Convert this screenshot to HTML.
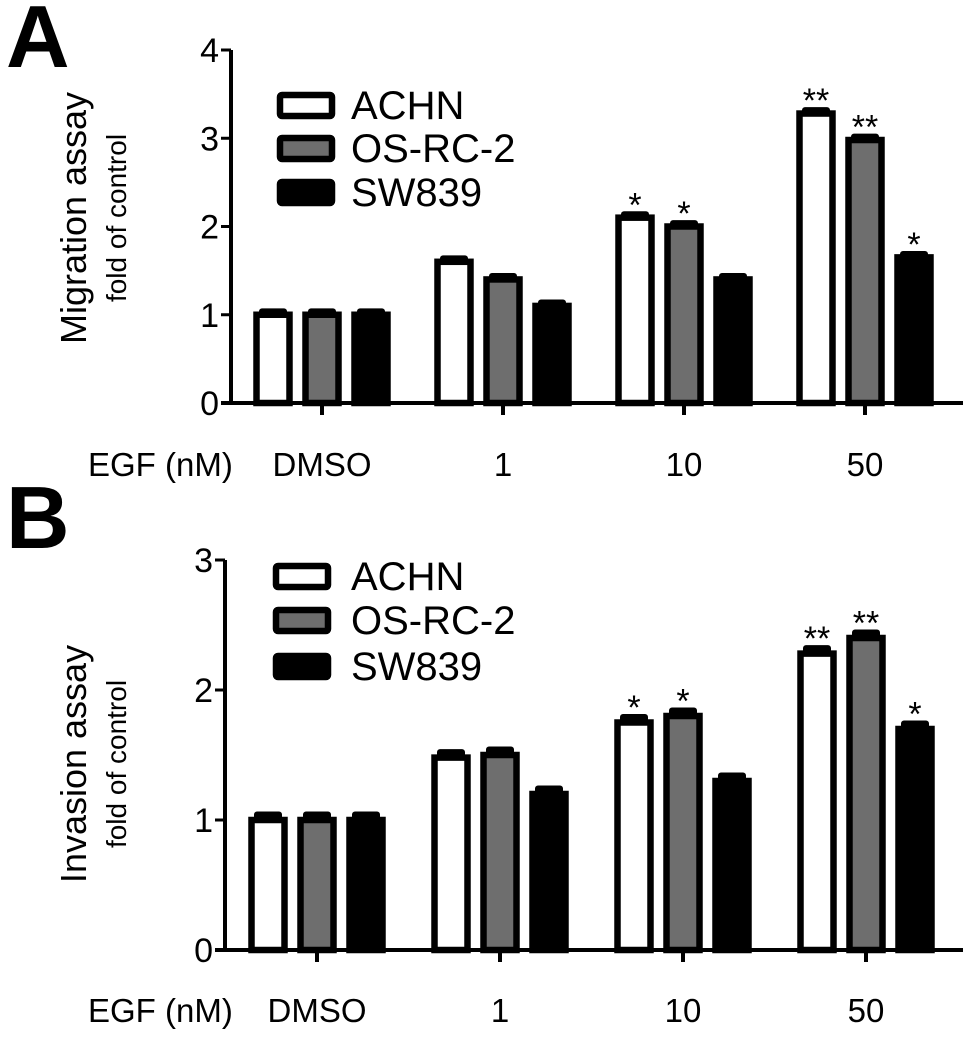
<!DOCTYPE html>
<html><head><meta charset="utf-8"><style>
html,body{margin:0;padding:0;background:#fff;}
svg{display:block;font-family:"Liberation Sans",Arial,sans-serif;}
</style></head><body>
<svg id="fig" width="979" height="1044" viewBox="0 0 979 1044"></svg>
<script>
const groups = ["DMSO","1","10","50"];
const seriesNames = ["ACHN","OS-RC-2","SW839"];
const migACHN = [1.0,1.6,2.1,3.28];
const migOS = [1.0,1.4,2.0,2.98];
const migSW = [1.0,1.1,1.4,1.65];
const migErr = [0.05,0.05,0.05,0.05];
const migStars = [["","",""],["","",""],["*","*",""],["**","**","*"]];
const migTicks = [0,1,2,3,4];
const invACHN = [1.0,1.48,1.75,2.28];
const invOS = [1.0,1.5,1.8,2.4];
const invSW = [1.0,1.2,1.3,1.7];
const invErr = [0.05,0.05,0.05,0.05];
const invStars = [["","",""],["","",""],["*","*",""],["**","**","*"]];
const invTicks = [0,1,2,3];

const NS="http://www.w3.org/2000/svg";
const svg=document.getElementById('fig');
function el(tag,attrs,parent,text){const e=document.createElementNS(NS,tag);for(const k in attrs)e.setAttribute(k,attrs[k]);if(text!==undefined)e.textContent=text;(parent||svg).appendChild(e);return e;}
const fills=["#ffffff","#6e6e6e","#000000"];

function panel(cfg){
  const g=el('g',{});
  
  
  const y=v=>cfg.y0-(v/cfg.ymax)*(cfg.y0-cfg.ytop);
  const gx=i=>cfg.gx0+i*cfg.gstep;
  const L=el('text',{x:6,y:cfg.letterY,'font-size':88,'font-weight':'bold'},g,cfg.letter);
  
  
  const ya=el('line',{x1:cfg.ax,y1:y(cfg.ymax),x2:cfg.ax,y2:cfg.y0,stroke:'#000','stroke-width':4},g);
  
  
  const xa=el('line',{x1:cfg.ax-10,y1:cfg.y0,x2:963,y2:cfg.y0,stroke:'#000','stroke-width':4},g);
  
  
  cfg.ticks.forEach(t=>{
    el('line',{x1:cfg.ax-10,y1:y(t),x2:cfg.ax,y2:y(t),stroke:'#000','stroke-width':3},g);
    const tl=el('text',{x:cfg.ax-12,y:y(t)+12,'font-size':34,'text-anchor':'end'},g,String(t));
    
    
  });
  const cy=cfg.titleY;
  const t1=el('text',{x:0,y:0,'font-size':36,'text-anchor':'middle',transform:`translate(86,${cy}) rotate(-90)`},g,cfg.title1);
  
  
  const t2=el('text',{x:0,y:0,'font-size':28,'text-anchor':'middle',transform:`translate(126,${cy}) rotate(-90)`},g,'fold of control');
  
  
  const eg=el('text',{x:88,y:cfg.labY,'font-size':33},g,'EGF (nM)');
  
  
  const offs=[-49,0,49], bw=33;
  groups.forEach((gn,i)=>{
    el('line',{x1:gx(i),y1:cfg.y0,x2:gx(i),y2:cfg.y0+12,stroke:'#000','stroke-width':4},g);
    const lab=el('text',{x:gx(i),y:cfg.labY,'font-size':33,'text-anchor':'middle'},g,gn);
    
    
    cfg.series.forEach((s,j)=>{
      const cx=gx(i)+offs[j], top=y(s[i]);
      const ey=y(s[i]+cfg.err[i]);
      const eb=el('rect',{x:cx-14,y:ey-2,width:28,height:top-ey+5,fill:'#000',rx:3},g);
      
      
      const b=el('rect',{x:cx-bw/2,y:top,width:bw,height:cfg.y0-top,fill:fills[j],stroke:'#000','stroke-width':6.5},g);
      
      
      const st=cfg.stars[i][j];
      if(st){
        const a=el('text',{x:cx,y:ey+3,'font-size':34,'text-anchor':'middle'},g,st);
        
        
      }
    });
  });
  seriesNames.forEach((n,j)=>{
    const ly=cfg.legY[j];
    const r=el('rect',{x:cfg.legX+3,y:ly+3,width:52,height:21,fill:fills[j],stroke:'#000','stroke-width':6.5,rx:2},g);
    
    
    const lt=el('text',{x:351,y:ly+27,'font-size':40},g,n);
    
    
  });
}
panel({name:'panel-a-migration',letter:'A',letterY:67,ax:231,y0:403,ytop:50,ymax:4,ticks:migTicks,
  gx0:322,gstep:181,series:[migACHN,migOS,migSW],err:migErr,stars:migStars,
  title1:'Migration assay',titleY:218,labY:476,legX:277,legY:[92,135,179]});
panel({name:'panel-b-invasion',letter:'B',letterY:548,ax:225,y0:950,ytop:560,ymax:3,ticks:invTicks,
  gx0:317,gstep:183,series:[invACHN,invOS,invSW],err:invErr,stars:invStars,
  title1:'Invasion assay',titleY:764,labY:1022,legX:273,legY:[563,607,653]});
</script>
</body></html>
